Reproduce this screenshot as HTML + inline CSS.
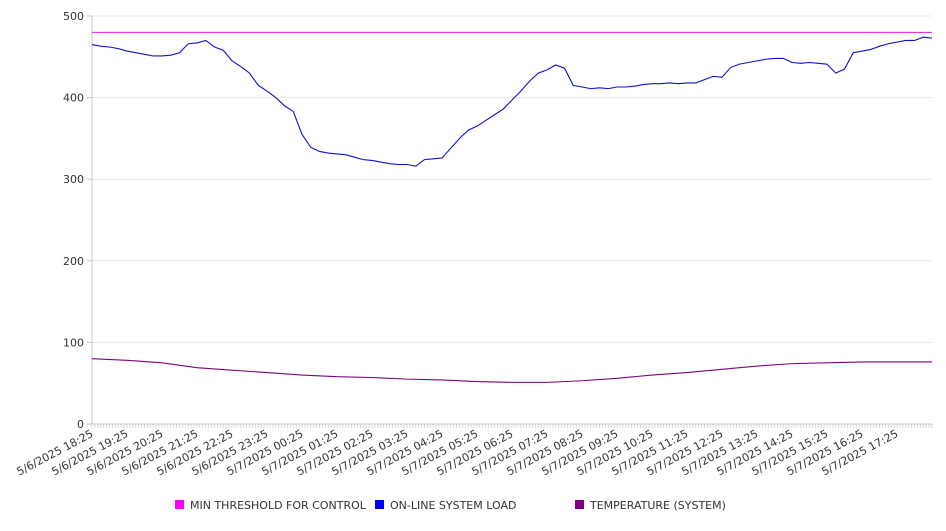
<!DOCTYPE html>
<html><head><meta charset="utf-8"><style>
body{margin:0;background:#fff;}
svg text{font-family:"DejaVu Sans","Liberation Sans",sans-serif;}
</style></head><body>
<svg id="chart" width="946" height="526" viewBox="0 0 946 526" xmlns="http://www.w3.org/2000/svg">
<g id="grid"></g>
<g id="yaxis"></g>
<g id="xaxis"></g>
<g id="series"></g>
<g id="legend"></g>
</svg>
<script>
const xLabels=["5/6/2025 18:25","5/6/2025 19:25","5/6/2025 20:25","5/6/2025 21:25","5/6/2025 22:25","5/6/2025 23:25","5/7/2025 00:25","5/7/2025 01:25","5/7/2025 02:25","5/7/2025 03:25","5/7/2025 04:25","5/7/2025 05:25","5/7/2025 06:25","5/7/2025 07:25","5/7/2025 08:25","5/7/2025 09:25","5/7/2025 10:25","5/7/2025 11:25","5/7/2025 12:25","5/7/2025 13:25","5/7/2025 14:25","5/7/2025 15:25","5/7/2025 16:25","5/7/2025 17:25"];
const yTicks=[0,100,200,300,400,500];
const threshold=480;
// on-line system load, every 15 minutes from 18:25
const loadValues=[465,463,462,460,457,455,453,451,451,452,455,466,467,470,462,458,445,438,430,415,408,400,390,383,355,339,334,332,331,330,327,324,323,321,319,318,318,316,324,325,326,338,350,360,365,372,379,386,397,408,420,430,434,440,436,415,413,411,412,411,413,413,414,416,417,417,418,417,418,418,422,426,425,437,441,443,445,447,448,448,443,442,443,442,441,430,435,455,457,459,463,466,468,470,470,474,473];
// temperature, hourly from 18:25
const tempValues=[80,78,75,69,66,63,60,58,57,55,54,52,51,51,53,56,60,63,67,71,74,75,76,76,76];
const legendNames=["MIN THRESHOLD FOR CONTROL","ON-LINE SYSTEM LOAD","TEMPERATURE (SYSTEM)"];

const NS="http://www.w3.org/2000/svg";
const X0=92,X1=932,Y0=424,Y1=16,TOTAL_MIN=24*60;
function xAt(min){return X0+(X1-X0)*min/TOTAL_MIN;}
function yAt(v){return Y0-(Y0-Y1)*v/500;}
function mk(tag,attrs,parent){const e=document.createElementNS(NS,tag);for(const k in attrs)e.setAttribute(k,attrs[k]);parent.appendChild(e);return e;}
const grid=document.getElementById('grid'),yaxis=document.getElementById('yaxis'),xaxis=document.getElementById('xaxis'),series=document.getElementById('series'),legend=document.getElementById('legend');

yTicks.forEach(t=>{
  const y=yAt(t);
  if(t>0){const g=mk('line',{x1:X0,x2:X1,y1:y,y2:y,stroke:'#e8e8e8','stroke-width':1},grid);
  
  }
  const tk=mk('line',{x1:X0-5,x2:X0,y1:y,y2:y,stroke:'#c8c8c8'},yaxis);
  
  
  const tx=mk('text',{x:X0-8,y:y+4,'text-anchor':'end','font-size':11,fill:'#333'},yaxis);
  tx.textContent=t;
  
  
});
const ya=mk('line',{x1:X0,x2:X0,y1:Y1,y2:Y0,stroke:'#c8c8c8'},yaxis);


const xa=mk('line',{x1:X0,x2:X1,y1:Y0,y2:Y0,stroke:'#c8c8c8'},xaxis);


for(let m=0;m<=TOTAL_MIN;m+=5){
  const x=xAt(m);
  const t=mk('line',{x1:x,x2:x,y1:Y0,y2:Y0+4,stroke:'#cfcfcf','stroke-width':0.8},xaxis);
  
  
}
xLabels.forEach((l,i)=>{
  const x=xAt(i*60);
  const t=mk('text',{x:0,y:0,'text-anchor':'end','font-size':11,fill:'#333',transform:`translate(${x+2},${Y0+12}) rotate(-28)`},xaxis);
  t.textContent=l;
  
  
});

const th=mk('line',{x1:X0,x2:X1,y1:yAt(threshold),y2:yAt(threshold),stroke:'#dd22dd','stroke-width':1},series);


const lp=mk('polyline',{fill:'none',stroke:'#1010cc','stroke-width':1.1,points:loadValues.map((v,i)=>xAt(i*15)+','+yAt(v)).join(' ')},series);


const tp=mk('polyline',{fill:'none',stroke:'#800080','stroke-width':1.1,points:tempValues.map((v,i)=>xAt(i*60)+','+yAt(v)).join(' ')},series);



const lcol=['#ff00ff','#0000ff','#800080'],lx=[175,375,575];
legendNames.forEach((n,i)=>{
  const r=mk('rect',{x:lx[i],y:500,width:9,height:9,fill:lcol[i]},legend);
  
  
  const t=mk('text',{x:lx[i]+15,y:509,'font-size':11,fill:'#333'},legend);
  t.textContent=n;
  
  
});
</script>
</body></html>
